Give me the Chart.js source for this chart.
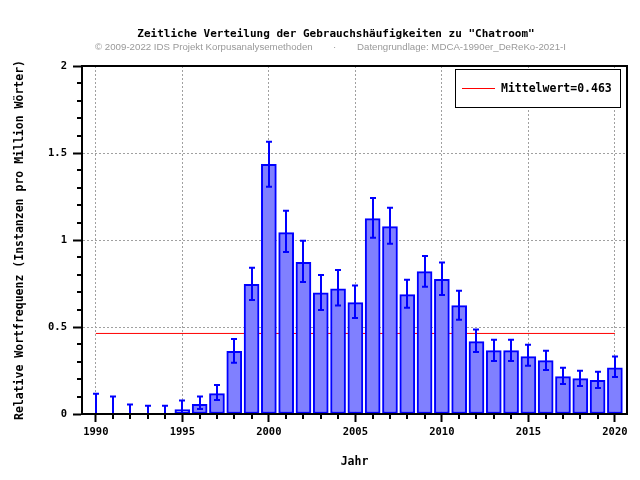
<!DOCTYPE html>
<html>
<head>
<meta charset="utf-8">
<script src="https://cdn.jsdelivr.net/npm/chart.js@4/dist/chart.umd.min.js"></script>
<style>
  html, body { margin: 0; padding: 0; background: #ffffff; }
</style>
</head>
<body>
<canvas id="verteilung" width="640" height="480"></canvas>
<script>
// values
var years = [1990, 1991, 1992, 1993, 1994, 1995, 1996, 1997, 1998, 1999,
    2000, 2001, 2002, 2003, 2004, 2005, 2006, 2007, 2008, 2009,
    2010, 2011, 2012, 2013, 2014, 2015, 2016, 2017, 2018, 2019, 2020];
var freq = [0, 0, 0, 0, 0, 0.025, 0.055, 0.117, 0.36, 0.745,
    1.435, 1.042, 0.872, 0.697, 0.72, 0.64, 1.123, 1.077, 0.686, 0.818,
    0.774, 0.623, 0.416, 0.364, 0.364, 0.33, 0.307, 0.215, 0.203, 0.193, 0.266];
var errHigh = [0.117, 0.10, 0.054, 0.048, 0.048, 0.078, 0.10, 0.167, 0.431, 0.841,
    1.565, 1.168, 0.996, 0.799, 0.828, 0.738, 1.241, 1.186, 0.772, 0.908,
    0.87, 0.709, 0.485, 0.427, 0.427, 0.398, 0.364, 0.266, 0.249, 0.243, 0.33];
var errLow = [0, 0, 0, 0, 0, 0.005, 0.029, 0.08, 0.295, 0.655,
    1.306, 0.931, 0.759, 0.598, 0.623, 0.552, 1.013, 0.979, 0.611, 0.732,
    0.684, 0.542, 0.356, 0.305, 0.305, 0.278, 0.253, 0.172, 0.161, 0.149, 0.213];
var meanValue = 0.463;

var xTicks = [1990, 1995, 2000, 2005, 2010, 2015, 2020];
var xTickLabels = ['1990', '1995', '2000', '2005', '2010', '2015', '2020'];
var yTicks = [0, 0.5, 1, 1.5, 2];
var yTickLabels = ['0', '0.5', '1', '1.5', '2'];

var titleText = 'Zeitliche Verteilung der Gebrauchshäufigkeiten zu "Chatroom"';
var creditText = '© 2009-2022 IDS Projekt Korpusanalysemethoden';
var sourceText = 'Datengrundlage: MDCA-1990er_DeReKo-2021-I';

var mono = 'DejaVu Sans Mono';

// title + credit line above the plot
var headerPlugin = {
    id: 'header',
    afterDraw: function (c) {
        var ctx = c.ctx;
        ctx.save();
        ctx.fillStyle = '#000';
        ctx.font = 'bold 11px "' + mono + '"';
        ctx.textAlign = 'center';
        ctx.textBaseline = 'middle';
        ctx.fillText(titleText, 336, 34);
        ctx.fillStyle = '#999';
        ctx.font = '9.7px "Liberation Sans"';
        ctx.textAlign = 'left';
        ctx.fillText(creditText, 95, 47);
        ctx.fillText('·', 333, 47);
        ctx.fillText(sourceText, 357, 47);
        ctx.restore();
    }
};

// whiskers on each bar
var errorBarPlugin = {
    id: 'errorBars',
    afterDatasetsDraw: function (c) {
        var ctx = c.ctx, x = c.scales.x, y = c.scales.y;
        ctx.save();
        ctx.strokeStyle = '#0000ff';
        ctx.lineWidth = 2;
        for (var i = 0; i < years.length; i++) {
            var px = Math.round(x.getPixelForValue(years[i]));
            var hi = y.getPixelForValue(errHigh[i]);
            var lo = y.getPixelForValue(errLow[i]);
            ctx.beginPath();
            ctx.moveTo(px, hi);
            ctx.lineTo(px, lo);
            ctx.moveTo(px - 3, hi);
            ctx.lineTo(px + 3, hi);
            ctx.moveTo(px - 3, lo);
            ctx.lineTo(px + 3, lo);
            ctx.stroke();
        }
        ctx.restore();
    }
};

// frame, minor ticks and the boxed legend
var framePlugin = {
    id: 'frame',
    afterDraw: function (c) {
        var ctx = c.ctx, a = c.chartArea, x = c.scales.x, y = c.scales.y;
        ctx.save();
        ctx.strokeStyle = '#000';
        ctx.lineWidth = 2;
        ctx.strokeRect(a.left, a.top, a.right - a.left, a.bottom - a.top);

        ctx.beginPath();
        for (var i = 0; i < years.length; i++) {
            if (xTicks.indexOf(years[i]) >= 0) continue;
            var px = Math.round(x.getPixelForValue(years[i]));
            ctx.moveTo(px, a.bottom);
            ctx.lineTo(px, a.bottom + 5);
        }
        for (var k = 1; k < 20; k++) {
            if (k % 5 === 0) continue;
            var py = Math.round(y.getPixelForValue(k / 10));
            ctx.moveTo(a.left - 5, py);
            ctx.lineTo(a.left, py);
        }
        ctx.stroke();

        // legend
        var label = c.data.datasets[0].label;
        ctx.fillStyle = '#fff';
        ctx.fillRect(455.5, 69.5, 165, 38);
        ctx.lineWidth = 1;
        ctx.strokeRect(455.5, 69.5, 165, 38);
        ctx.strokeStyle = 'red';
        ctx.beginPath();
        ctx.moveTo(462, 88.5);
        ctx.lineTo(495, 88.5);
        ctx.stroke();
        ctx.fillStyle = '#000';
        ctx.font = 'bold 11.5px "' + mono + '"';
        ctx.textBaseline = 'middle';
        ctx.fillText(label, 501, 89);
        ctx.restore();
    }
};

var chart = document.getElementById('verteilung').getContext('2d');

var verteilungChart = new Chart(chart, {
    type: 'bar',
    data: {
        datasets: [
            {
                type: 'line',
                label: 'Mittelwert=' + meanValue,
                data: [{ x: years[0], y: meanValue }, { x: years[years.length - 1], y: meanValue }],
                borderColor: 'red',
                borderWidth: 1,
                pointRadius: 0,
                order: 2
            },
            {
                label: 'Relative Wortfrequenz',
                data: years.map(function (yr, i) { return { x: yr, y: freq[i] }; }),
                backgroundColor: '#8080ff',
                borderColor: '#0000ff',
                borderWidth: 2,
                borderSkipped: false,
                barThickness: 15,
                order: 1
            }
        ]
    },
    options: {
        responsive: false,
        animation: false,
        layout: { padding: { top: 66, right: 13, left: 0, bottom: 0 } },
        plugins: {
            legend: { display: false },
            tooltip: { enabled: false }
        },
        scales: {
            x: {
                type: 'linear',
                min: 1989.2,
                max: 2020.7,
                offset: false,
                afterBuildTicks: function (axis) {
                    axis.ticks = xTicks.map(function (v) { return { value: v }; });
                },
                afterFit: function (axis) { axis.height = 66; },
                grid: {
                    offset: false,
                    color: '#a0a0a0',
                    lineWidth: 1,
                    tickColor: '#000',
                    tickWidth: 2,
                    tickLength: 8,
                    tickBorderDash: []
                },
                border: { color: '#000', width: 2, dash: [2, 2] },
                ticks: {
                    autoSkip: false,
                    maxRotation: 0,
                    padding: 4,
                    color: '#000',
                    font: { family: mono, size: 10.5, weight: 'bold' },
                    callback: function (value, index) { return xTickLabels[index]; }
                },
                title: {
                    display: true,
                    text: 'Jahr',
                    color: '#000',
                    font: { family: mono, size: 11.5, weight: 'bold' },
                    padding: { top: 0, bottom: 11 }
                }
            },
            y: {
                min: 0,
                max: 2,
                afterBuildTicks: function (axis) {
                    axis.ticks = yTicks.map(function (v) { return { value: v }; });
                },
                afterFit: function (axis) { axis.width = 82; },
                grid: {
                    color: function (ctx) {
                        var v = ctx.tick ? ctx.tick.value : 0;
                        return (v === 0 || v === 2) ? 'rgba(0,0,0,0)' : '#a0a0a0';
                    },
                    lineWidth: 1,
                    tickColor: '#000',
                    tickWidth: 2,
                    tickLength: 9,
                    tickBorderDash: []
                },
                border: { color: '#000', width: 2, dash: [2, 2] },
                ticks: {
                    padding: 6,
                    color: '#000',
                    font: { family: mono, size: 10.5, weight: 'bold' },
                    callback: function (value, index) { return yTickLabels[index]; }
                },
                title: {
                    display: true,
                    text: 'Relative Wortfrequenz (Instanzen pro Million Wörter)',
                    color: '#000',
                    font: { family: mono, size: 11.5, weight: 'bold' },
                    padding: { top: 13, bottom: 0 }
                }
            }
        }
    },
    plugins: [errorBarPlugin, framePlugin, headerPlugin]
});
</script>
</body>
</html>
